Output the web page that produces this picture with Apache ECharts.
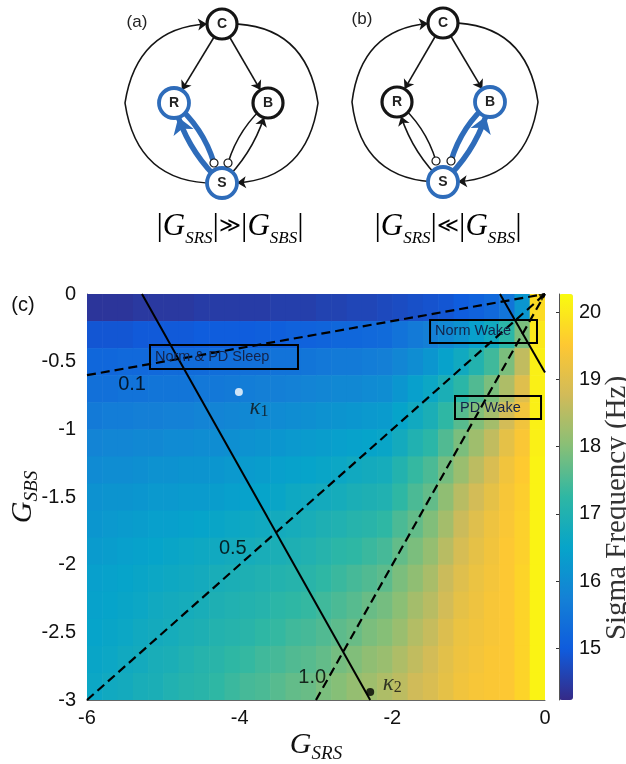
<!DOCTYPE html>
<html>
<head>
<meta charset="utf-8">
<script src="https://cdn.jsdelivr.net/npm/echarts@6/dist/echarts.min.js"></script>
<style>
  html, body { margin: 0; padding: 0; background: #fff; }
  #chart { width: 626px; height: 764px; }
</style>
</head>
<body>
<div id="chart"></div>
<script>
// heatmap cells (centres) and the sigma frequency, rows go top -> bottom
var xCenters = [-5.9, -5.7, -5.5, -5.3, -5.1, -4.9, -4.7, -4.5, -4.3, -4.1, -3.9, -3.7, -3.5, -3.3, -3.1,
                -2.9, -2.7, -2.5, -2.3, -2.1, -1.9, -1.7, -1.5, -1.3, -1.1, -0.9, -0.7, -0.5, -0.3, -0.1];
var yCenters = [-0.1, -0.3, -0.5, -0.7, -0.9, -1.1, -1.3, -1.5, -1.7, -1.9, -2.1, -2.3, -2.5, -2.7, -2.9];
var sigmaFreq = [
  [14.4,14.4,14.4,14.45,14.45,14.45,14.45,14.5,14.5,14.5,14.5,14.5,14.55,14.55,14.55,14.6,14.6,14.65,14.65,14.7,14.75,14.8,14.85,14.9,15.0,15.1,15.25,15.5,16.2,19.8],
  [14.9,14.9,14.9,14.95,14.95,14.95,14.95,15.0,15.0,15.0,15.0,15.05,15.05,15.1,15.1,15.15,15.2,15.2,15.25,15.3,15.45,15.6,15.7,15.9,16.1,16.4,16.7,17.2,17.9,20.0],
  [15.2,15.2,15.25,15.25,15.25,15.3,15.3,15.3,15.35,15.35,15.4,15.4,15.45,15.45,15.5,15.55,15.6,15.6,15.65,15.7,15.85,16.0,16.2,16.45,16.7,17.05,17.4,17.9,18.6,20.1],
  [15.4,15.4,15.45,15.45,15.5,15.5,15.5,15.55,15.55,15.6,15.65,15.7,15.7,15.75,15.8,15.85,15.9,15.9,15.95,16.0,16.2,16.4,16.6,16.9,17.2,17.55,17.9,18.4,19.0,20.1],
  [15.6,15.65,15.65,15.7,15.7,15.75,15.75,15.8,15.8,15.85,15.9,15.95,15.95,16.0,16.05,16.1,16.15,16.2,16.25,16.3,16.5,16.7,16.9,17.25,17.6,17.95,18.3,18.8,19.3,20.1],
  [15.8,15.85,15.85,15.9,15.9,15.95,15.95,16.0,16.0,16.05,16.1,16.15,16.2,16.25,16.3,16.35,16.4,16.45,16.5,16.55,16.75,17.0,17.2,17.55,17.9,18.25,18.6,19.1,19.45,20.1],
  [15.95,16.0,16.0,16.05,16.1,16.1,16.15,16.15,16.2,16.25,16.3,16.35,16.4,16.45,16.5,16.55,16.6,16.7,16.75,16.8,17.05,17.3,17.5,17.85,18.2,18.55,18.9,19.3,19.55,20.15],
  [16.1,16.15,16.15,16.2,16.25,16.25,16.3,16.3,16.35,16.4,16.45,16.5,16.55,16.65,16.7,16.75,16.8,16.9,16.95,17.0,17.25,17.5,17.7,18.1,18.5,18.8,19.1,19.4,19.6,20.15],
  [16.2,16.25,16.3,16.35,16.4,16.4,16.45,16.5,16.55,16.6,16.65,16.7,16.75,16.8,16.85,16.95,17.0,17.1,17.15,17.25,17.5,17.7,17.95,18.3,18.7,19.0,19.25,19.45,19.65,20.15],
  [16.3,16.35,16.4,16.45,16.5,16.55,16.6,16.65,16.7,16.75,16.8,16.85,16.9,16.95,17.0,17.1,17.2,17.25,17.35,17.45,17.7,17.9,18.15,18.5,18.85,19.1,19.3,19.5,19.65,20.15],
  [16.4,16.45,16.5,16.55,16.6,16.65,16.7,16.75,16.85,16.9,16.95,17.0,17.05,17.1,17.15,17.25,17.35,17.45,17.55,17.65,17.9,18.1,18.35,18.7,19.0,19.2,19.35,19.5,19.7,20.15],
  [16.45,16.5,16.55,16.6,16.7,16.75,16.8,16.85,16.95,17.0,17.05,17.1,17.2,17.25,17.3,17.4,17.5,17.6,17.75,17.85,18.05,18.3,18.5,18.8,19.1,19.25,19.4,19.5,19.7,20.15],
  [16.5,16.55,16.6,16.7,16.75,16.8,16.9,16.95,17.05,17.1,17.15,17.25,17.3,17.4,17.45,17.55,17.65,17.75,17.9,18.0,18.2,18.45,18.65,18.95,19.2,19.3,19.4,19.5,19.7,20.15],
  [16.55,16.6,16.7,16.75,16.85,16.9,17.0,17.1,17.15,17.25,17.3,17.4,17.45,17.55,17.6,17.7,17.85,17.95,18.1,18.2,18.4,18.6,18.8,19.05,19.25,19.35,19.45,19.5,19.7,20.15],
  [16.6,16.7,16.75,16.85,16.9,17.0,17.1,17.15,17.25,17.35,17.45,17.5,17.6,17.7,17.75,17.9,18.0,18.15,18.25,18.4,18.55,18.75,18.9,19.1,19.3,19.4,19.45,19.5,19.7,20.15]
];
var freqMin = 14.23;
var freqMax = 20.27;
var colorTicks = [15, 16, 17, 18, 19, 20];

// overlay lines
var dash01 = [[-6, -0.6], [0, 0]];
var dash05 = [[-6, -3], [0, 0]];
var dash10 = [[-3, -3], [0, 0]];
var solidLong = [[-5.28, 0], [-2.29, -3]];
var solidShort = [[-0.59, 0], [0, -0.58]];

var contourNames = ['0.1', '0.5', '1.0'];
var contourPos = [[-5.41, -0.665], [-4.09, -1.877], [-3.05, -2.83]];

var regionNames = ['Norm & PD Sleep', 'Norm Wake', 'PD Wake'];
var regionBoxes = [[-5.175, -0.377, -3.236, -0.554], [-1.506, -0.192, -0.105, -0.362], [-1.179, -0.754, -0.052, -0.924]];

var kappaNames = ['1', '2'];
var kappaPos = [[-4.01, -0.724], [-2.29, -2.94]];
var kappaColor = ['#ffffff', '#000000'];

// network diagrams (a) and (b): nodes in pixel space of the top panel
var diagA = [['C', 222, 24], ['R', 174, 103], ['B', 268, 103], ['S', 222, 183],
             ['iR', 214, 163], ['iB', 228, 163], ['wL', 125, 103], ['wR', 318, 103]];
var diagB = [['C', 443, 23], ['R', 397, 102], ['B', 490, 102], ['S', 443, 182],
             ['iR', 436, 161], ['iB', 451, 161], ['wL', 352, 102], ['wR', 538, 102]];
var diagLinks = [
  ['C', 'R', true, 0, 'out'], ['C', 'B', true, 0, 'out'],
  ['S', 'wL', false, 0.45, 'out'], ['wL', 'C', true, 0.45, 'out'],
  ['C', 'wR', false, 0.45, 'out'], ['wR', 'S', true, 0.45, 'out'],
  ['S', 'R', true, 0.15, 'R'], ['R', 'iR', false, 0.15, 'R'],
  ['S', 'B', true, -0.15, 'B'], ['B', 'iB', false, -0.15, 'B']
];

var parula = ['#352a87', '#0f5cdd', '#1481d6', '#06a4ca', '#2eb7a4', '#87bf77', '#d1bb59', '#fec832', '#f9fb0e'];
var BLUE = '#2e6cba';

var cells = [];
yCenters.forEach(function (y, r) {
  xCenters.forEach(function (x, c) {
    cells.push([x, y, sigmaFreq[r][c]]);
  });
});
var cellW = Math.abs(xCenters[1] - xCenters[0]);
var cellH = Math.abs(yCenters[1] - yCenters[0]);

function diagram(nodes, strong) {
  var data = nodes.map(function (n) {
    var name = n[0];
    var item = { name: name, value: [n[1], n[2]] };
    if (name[0] === 'i') {
      item.symbolSize = 8;
      item.itemStyle = { color: '#fff', borderColor: '#111', borderWidth: 1.2 };
      item.label = { show: false };
    } else if (name[0] === 'w') {
      item.symbolSize = 1;
      item.itemStyle = { opacity: 0 };
      item.label = { show: false };
    } else {
      var blue = name === 'S' || name === strong;
      item.symbolSize = 30;
      item.itemStyle = { color: '#fff', borderColor: blue ? BLUE : '#151515', borderWidth: blue ? 3.8 : 3.2 };
    }
    return item;
  });
  var links = diagLinks.map(function (l) {
    var thick = l[4] === strong;
    return {
      source: l[0],
      target: l[1],
      symbol: ['none', l[2] ? 'arrow' : 'none'],
      symbolSize: [1, thick ? 16 : 9],
      lineStyle: { color: thick ? BLUE : '#151515', width: thick ? 5.5 : 1.6, curveness: l[3], opacity: 1 }
    };
  });
  return {
    type: 'graph',
    coordinateSystem: 'cartesian2d',
    xAxisIndex: 2,
    yAxisIndex: 2,
    layout: 'none',
    silent: true,
    z: 3,
    data: data,
    links: links,
    lineStyle: { opacity: 1 },
    label: { show: true, position: 'inside', fontSize: 14, fontWeight: 'bold', color: '#222', fontFamily: 'Liberation Sans' }
  };
}

var gRich = {
  g: { fontFamily: 'Liberation Serif', fontStyle: 'italic', fontSize: 30, color: '#111', lineHeight: 36 },
  s: { fontFamily: 'Liberation Serif', fontStyle: 'italic', fontSize: 19, color: '#111', lineHeight: 19, verticalAlign: 'bottom' }
};
var formulaRich = {
  bar: { fontFamily: 'Liberation Serif', fontSize: 32, color: '#222', lineHeight: 40 },
  g: { fontFamily: 'Liberation Serif', fontStyle: 'italic', fontSize: 31, color: '#222', lineHeight: 40 },
  s: { fontFamily: 'Liberation Serif', fontStyle: 'italic', fontSize: 17, color: '#222', lineHeight: 19, verticalAlign: 'bottom' },
  op: { fontFamily: 'DejaVu Serif', fontSize: 21, color: '#222', lineHeight: 40 }
};
var axisFont = { fontSize: 20, color: '#111', fontFamily: 'Liberation Sans' };

var chart = echarts.init(document.getElementById('chart'));

var option = {
  animation: false,
  backgroundColor: '#fff',
  grid: [
    { left: 87, top: 294, width: 458, height: 406, outerBoundsMode: 'none' },
    { left: 559, top: 294, width: 14, height: 406, outerBoundsMode: 'none' },
    { left: 0, top: 0, width: 626, height: 250, outerBoundsMode: 'none' }
  ],
  xAxis: [
    {
      gridIndex: 0, type: 'value', min: -6, max: 0, interval: 2,
      axisLine: { show: true, onZero: false, lineStyle: { color: '#666' } },
      axisTick: { show: false }, splitLine: { show: false },
      axisLabel: Object.assign({ margin: 8 }, axisFont),
      name: '{g|G}{s|SRS}', nameLocation: 'middle', nameGap: 27, nameMoveOverlap: false,
      nameTextStyle: { rich: gRich }
    },
    { gridIndex: 1, type: 'value', show: false, min: 0, max: 1 },
    { gridIndex: 2, type: 'value', show: false, min: 0, max: 626 }
  ],
  yAxis: [
    {
      gridIndex: 0, type: 'value', min: -3, max: 0, interval: 0.5,
      axisLine: { show: true, onZero: false, lineStyle: { color: '#666' } },
      axisTick: { show: false }, splitLine: { show: false },
      axisLabel: Object.assign({ margin: 11 }, axisFont),
      name: '{g|G}{s|SBS}', nameLocation: 'middle', nameGap: 46, nameRotate: 90, nameMoveOverlap: false,
      nameTextStyle: { rich: gRich }
    },
    {
      gridIndex: 1, type: 'value', position: 'right', min: freqMin, max: freqMax, z: 10,
      axisLine: { show: true, lineStyle: { color: '#555' } },
      axisTick: { show: true, inside: true, length: 3, customValues: colorTicks, lineStyle: { color: '#333' } },
      axisLabel: Object.assign({ margin: 6, customValues: colorTicks }, axisFont),
      splitLine: { show: false }
    },
    { gridIndex: 2, type: 'value', show: false, min: 0, max: 250, inverse: true }
  ],
  visualMap: {
    type: 'continuous', min: freqMin, max: freqMax, seriesIndex: 0, dimension: 2,
    left: 559, top: 294, itemWidth: 14, itemHeight: 406, padding: 0,
    calculable: false, hoverLink: false, inRange: { color: parula }
  },
  graphic: [
    { type: 'text', x: 23, y: 305, style: { text: '(c)', fontSize: 20, fontFamily: 'Liberation Sans', fill: '#111', align: 'center', verticalAlign: 'middle' } },
    { type: 'text', x: 137, y: 22, style: { text: '(a)', fontSize: 17, fontFamily: 'Liberation Sans', fill: '#222', align: 'center', verticalAlign: 'middle' } },
    { type: 'text', x: 362, y: 19, style: { text: '(b)', fontSize: 17, fontFamily: 'Liberation Sans', fill: '#222', align: 'center', verticalAlign: 'middle' } },
    { type: 'text', x: 230, y: 227, style: { text: '{bar||}{g|G}{s|SRS}{bar||}{op|≫}{bar||}{g|G}{s|SBS}{bar||}', rich: formulaRich, align: 'center', verticalAlign: 'middle' } },
    { type: 'text', x: 448, y: 227, style: { text: '{bar||}{g|G}{s|SRS}{bar||}{op|≪}{bar||}{g|G}{s|SBS}{bar||}', rich: formulaRich, align: 'center', verticalAlign: 'middle' } },
    {
      type: 'text', x: 617, y: 508, rotation: Math.PI / 2,
      style: { text: 'Sigma Frequency (Hz)', fontSize: 29, fontFamily: 'Liberation Serif', fill: '#333', align: 'center', verticalAlign: 'middle' }
    }
  ],
  series: [
    {
      type: 'custom', xAxisIndex: 0, yAxisIndex: 0, clip: true, silent: true, z: 1,
      data: cells,
      encode: { x: 0, y: 1 },
      renderItem: function (params, api) {
        var p = api.coord([api.value(0), api.value(1)]);
        var s = api.size([cellW, cellH]);
        return {
          type: 'rect',
          shape: { x: p[0] - s[0] / 2, y: p[1] - s[1] / 2, width: s[0] + 0.6, height: s[1] + 0.6 },
          style: { fill: api.visual('color') }
        };
      }
    },
    { type: 'line', data: dash01, showSymbol: false, silent: true, z: 3, lineStyle: { color: '#000', width: 2.2, type: [9, 5] } },
    { type: 'line', data: dash05, showSymbol: false, silent: true, z: 3, lineStyle: { color: '#000', width: 2.2, type: [9, 5] } },
    { type: 'line', data: dash10, showSymbol: false, silent: true, z: 3, lineStyle: { color: '#000', width: 2.2, type: [9, 5] } },
    { type: 'line', data: solidLong, showSymbol: false, silent: true, z: 3, lineStyle: { color: '#000', width: 2 } },
    { type: 'line', data: solidShort, showSymbol: false, silent: true, z: 3, lineStyle: { color: '#000', width: 2 } },
    {
      type: 'scatter', silent: true, z: 4, symbolSize: 1,
      itemStyle: { color: 'rgba(0,0,0,0)' },
      data: contourPos.map(function (p, i) { return { name: contourNames[i], value: p }; }),
      label: { show: true, position: 'inside', formatter: '{b}', fontSize: 20, color: '#000', fontFamily: 'Liberation Sans' }
    },
    {
      // state boxes
      type: 'custom', xAxisIndex: 0, yAxisIndex: 0, silent: true, z: 5, clip: false,
      data: regionBoxes.map(function (b, i) { return [b[0], b[1], b[2], b[3], i]; }),
      renderItem: function (params, api) {
        var p1 = api.coord([api.value(0), api.value(1)]);
        var p2 = api.coord([api.value(2), api.value(3)]);
        return {
          type: 'group',
          children: [
            {
              type: 'rect',
              shape: { x: p1[0], y: p1[1], width: p2[0] - p1[0], height: p2[1] - p1[1] },
              style: { fill: 'none', stroke: '#000', lineWidth: 2 }
            },
            {
              type: 'text',
              x: p1[0] + 5, y: (p1[1] + p2[1]) / 2,
              style: {
                text: regionNames[api.value(4)], fill: '#13234a',
                fontSize: 14.5, fontFamily: 'Liberation Sans', align: 'left', verticalAlign: 'middle'
              }
            }
          ]
        };
      }
    },
    {
      type: 'scatter', silent: true, z: 6, symbolSize: 8,
      data: kappaPos.map(function (p, i) {
        return {
          name: kappaNames[i], value: p,
          itemStyle: { color: kappaColor[i] },
          label: { offset: i === 0 ? [20, 16] : [22, -8] }
        };
      }),
      label: {
        show: true, position: 'inside', formatter: '{k|κ}{n|{b}}',
        rich: {
          k: { fontFamily: 'Liberation Serif', fontStyle: 'italic', fontSize: 23, color: '#111', lineHeight: 24 },
          n: { fontFamily: 'Liberation Serif', fontSize: 16, color: '#111', lineHeight: 15, verticalAlign: 'bottom' }
        }
      }
    },
    {
      type: 'scatter', silent: true, z: 6, symbol: 'triangle', symbolRotate: 180, symbolSize: 7, clip: false,
      itemStyle: { color: '#000' },
      data: [[-0.04, -0.025]]
    },
    diagram(diagA, 'R'),
    diagram(diagB, 'B')
  ]
};

chart.setOption(option);
</script>
</body>
</html>
